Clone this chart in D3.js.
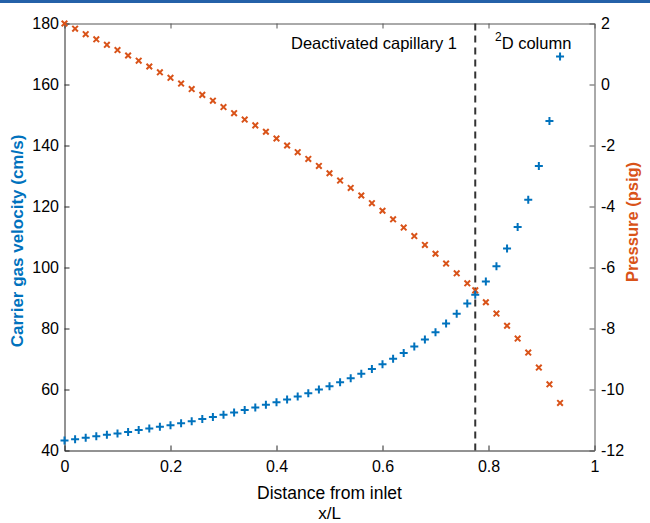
<!DOCTYPE html>
<html>
<head>
<meta charset="utf-8">
<script src="https://cdn.jsdelivr.net/npm/d3@7/dist/d3.min.js"></script>
<style>
  html, body { margin: 0; padding: 0; background: #fff; }
  svg { display: block; font-family: "Liberation Sans", Arial, Helvetica, sans-serif; }
</style>
</head>
<body>
<svg id="chart" width="650" height="523"></svg>
<script>
// Axial position along the column (x/L)
const positions = [0, 0.02, 0.04, 0.06, 0.08, 0.10, 0.12, 0.14, 0.16, 0.18,
  0.20, 0.22, 0.24, 0.26, 0.28, 0.30, 0.32, 0.34, 0.36, 0.38,
  0.40, 0.42, 0.44, 0.46, 0.48, 0.50, 0.52, 0.54, 0.56, 0.58,
  0.60, 0.62, 0.64, 0.66, 0.68, 0.70, 0.72, 0.74, 0.76, 0.775,
  0.795, 0.815, 0.835, 0.855, 0.875, 0.895, 0.915, 0.935];

// Carrier gas velocity (cm/s), left axis
const velocity = [43.3, 43.7, 44.2, 44.7, 45.2, 45.6, 46.1, 46.7, 47.2, 47.8,
  48.3, 48.9, 49.6, 50.3, 51.0, 51.7, 52.5, 53.3, 54.1, 55.0,
  55.8, 56.7, 57.7, 58.8, 60.0, 61.1, 62.4, 63.7, 65.2, 66.7,
  68.3, 70.1, 72.0, 74.1, 76.4, 78.8, 81.6, 84.8, 88.2, 91.1,
  95.4, 100.4, 106.2, 113.3, 122.2, 133.3, 148.0, 169.2];

// Pressure (psig), right axis
const pressure = [2.0, 1.83, 1.65, 1.48, 1.30, 1.13, 0.95, 0.78, 0.59, 0.40,
  0.22, 0.03, -0.15, -0.34, -0.53, -0.74, -0.94, -1.15, -1.34, -1.55,
  -1.77, -2.00, -2.22, -2.44, -2.67, -2.91, -3.15, -3.39, -3.64, -3.89,
  -4.14, -4.42, -4.69, -4.97, -5.26, -5.55, -5.87, -6.19, -6.52, -6.75,
  -7.14, -7.51, -7.91, -8.33, -8.79, -9.28, -9.83, -10.44];

// Boundary between the deactivated capillary and the 2D column
const boundary = 0.775;

const xTicks = [0, 0.2, 0.4, 0.6, 0.8, 1];
const leftTicks = [40, 60, 80, 100, 120, 140, 160, 180];
const rightTicks = [-12, -10, -8, -6, -4, -2, 0, 2];

const blue = "#0072BD";
const orange = "#D95319";
const axisColor = "#262626";
const tickFont = "16px";

const svg = d3.select("#chart");
const L = 64.5, R = 594.5, T = 23.5, B = 450.5;

const x = d3.scaleLinear().domain([0, 1]).range([L, R]);
const yL = d3.scaleLinear().domain([40, 180]).range([B, T]);
const yR = d3.scaleLinear().domain([-12, 2]).range([B, T]);

// page rule across the top
svg.append("rect").attr("x", 0).attr("y", 0).attr("width", 650).attr("height", 3).attr("fill", "#2461A8");

// axes (ticks point inward)
const gBottom = svg.append("g").attr("transform", `translate(0,${B})`)
  .call(d3.axisBottom(x).tickValues(xTicks).tickSizeInner(-5).tickSizeOuter(0).tickPadding(10).tickFormat(d3.format("")));
const gTop = svg.append("g").attr("transform", `translate(0,${T})`)
  .call(d3.axisTop(x).tickValues(xTicks).tickSizeInner(-5).tickSizeOuter(0).tickFormat(""));
const gLeft = svg.append("g").attr("transform", `translate(${L},0)`)
  .call(d3.axisLeft(yL).tickValues(leftTicks).tickSizeInner(-5).tickSizeOuter(0).tickPadding(5.5));
const gRight = svg.append("g").attr("transform", `translate(${R},0)`)
  .call(d3.axisRight(yR).tickValues(rightTicks).tickSizeInner(-5).tickSizeOuter(0).tickPadding(6.5).tickFormat(d3.format("")));

[gBottom, gLeft].forEach(g => {
  g.select(".domain").attr("stroke", axisColor);
  g.selectAll(".tick line").attr("stroke", axisColor);
});
[gTop, gRight].forEach(g => {
  g.select(".domain").attr("stroke", "#555");
  g.selectAll(".tick line").attr("stroke", "#555");
});
[gBottom, gLeft, gRight].forEach(g => {
  g.selectAll(".tick text").attr("fill", "#000").style("font-size", tickFont)
    .style("font-family", "'Liberation Sans', Arial, sans-serif");
});
gRight.selectAll(".tick text").text(d => d < 0 ? "-" + Math.abs(d) : d);

// boundary line
svg.append("line")
  .attr("x1", x(boundary)).attr("x2", x(boundary))
  .attr("y1", T).attr("y2", B)
  .attr("stroke", "#333").attr("stroke-width", 2).attr("stroke-dasharray", "7,5");

const data = positions.map((p, i) => ({ p, v: velocity[i], q: pressure[i] }));

// pressure markers (x)
const s = 2.8;
svg.append("g").selectAll("path").data(data).join("path")
  .attr("d", d => {
    const cx = x(d.p), cy = yR(d.q);
    return `M${cx - s},${cy - s}L${cx + s},${cy + s}M${cx - s},${cy + s}L${cx + s},${cy - s}`;
  })
  .attr("stroke", orange).attr("stroke-width", 2).attr("fill", "none");

// velocity markers (+)
const p = 4;
svg.append("g").selectAll("path").data(data).join("path")
  .attr("d", d => {
    const cx = x(d.p), cy = yL(d.v);
    return `M${cx - p},${cy}L${cx + p},${cy}M${cx},${cy - p}L${cx},${cy + p}`;
  })
  .attr("stroke", blue).attr("stroke-width", 2).attr("fill", "none");

// region labels
svg.append("text").attr("x", 457).attr("y", 49).attr("text-anchor", "end")
  .style("font-size", "16.5px").attr("fill", "#000").text("Deactivated capillary 1");
const col = svg.append("text").attr("x", 495).attr("y", 49)
  .style("font-size", "16.5px").attr("fill", "#000");
col.append("tspan").attr("dy", -8).style("font-size", "12px").text("2");
col.append("tspan").attr("dy", 8).text("D column");

// axis titles
svg.append("text").attr("transform", `translate(23,241) rotate(-90)`)
  .attr("text-anchor", "middle").style("font-size", "17px").style("font-weight", "bold")
  .attr("fill", blue).text("Carrier gas velocity (cm/s)");
svg.append("text").attr("transform", `translate(638,222) rotate(-90)`)
  .attr("text-anchor", "middle").style("font-size", "16.5px").style("font-weight", "bold")
  .attr("fill", orange).text("Pressure (psig)");
svg.append("text").attr("x", (L + R) / 2).attr("y", 499).attr("text-anchor", "middle")
  .style("font-size", "17.5px").attr("fill", "#000").text("Distance from inlet");
svg.append("text").attr("x", (L + R) / 2).attr("y", 519).attr("text-anchor", "middle")
  .style("font-size", "17px").attr("fill", "#000").text("x/L");
</script>
</body>
</html>
